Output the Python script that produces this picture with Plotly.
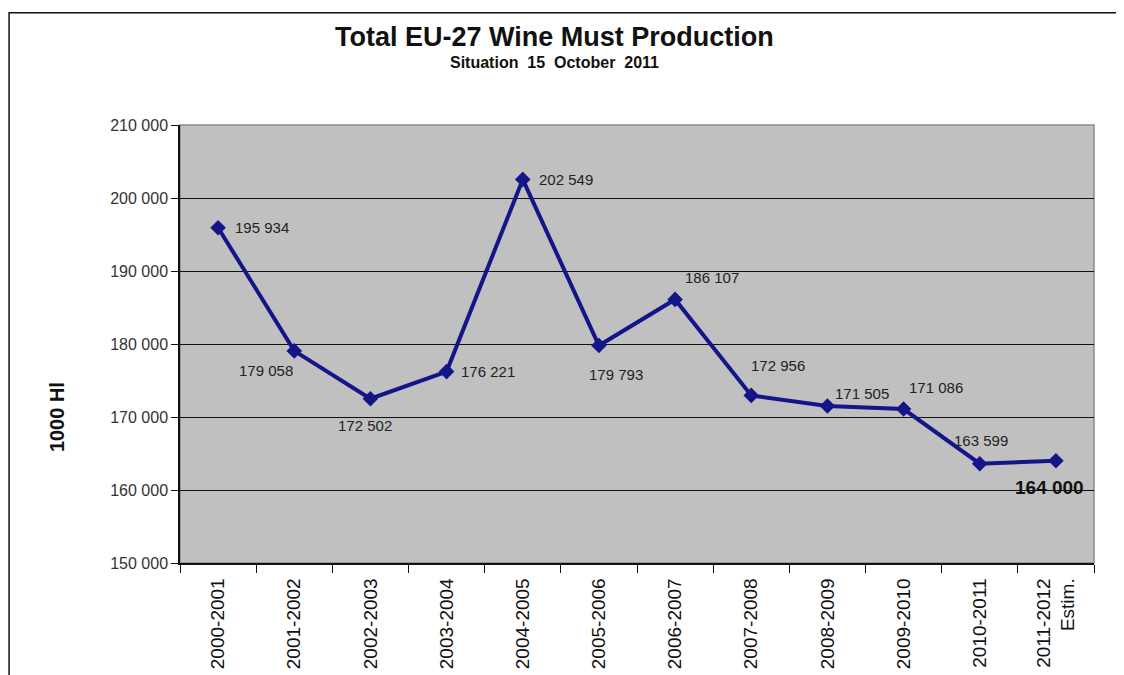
import plotly.graph_objects as go

categories = ["2000-2001", "2001-2002", "2002-2003", "2003-2004", "2004-2005", "2005-2006",
              "2006-2007", "2007-2008", "2008-2009", "2009-2010", "2010-2011", "2011-2012<br>Estim."]
production = [195934, 179058, 172502, 176221, 202549, 179793, 186107, 172956, 171505, 171086, 163599, 164000]
value_labels = ["195 934", "179 058", "172 502", "176 221", "202 549", "179 793", "186 107",
                "172 956", "171 505", "171 086", "163 599", "164 000"]
y_ticks = [150000, 160000, 170000, 180000, 190000, 200000, 210000]
y_tick_labels = ["150 000", "160 000", "170 000", "180 000", "190 000", "200 000", "210 000"]

# label offsets in pixels (dx, dy) relative to the point
offsets = [(44, 0), (-28, -20), (-5, -27), (41, 0), (43, 0), (17, -29), (37, 22), (27, 30),
           (35, 13), (32, 22), (1, 23), (-6, -27)]

FONT = "Liberation Sans, Arial, sans-serif"

fig = go.Figure()
fig.add_trace(go.Scatter(
    x=categories, y=production, mode="lines+markers",
    line=dict(color="#15158a", width=4),
    marker=dict(symbol="diamond", size=12, color="#15158a"),
    hoverinfo="x+y", showlegend=False,
))

for i, (c, v, t) in enumerate(zip(categories, production, value_labels)):
    dx, dy = offsets[i]
    last = i == len(categories) - 1
    fig.add_annotation(
        x=c, y=v, text=("<b>%s</b>" % t) if last else t, showarrow=False,
        xshift=dx, yshift=dy,
        font=dict(family=FONT, size=19 if last else 15, color="#111" if last else "#222"),
    )

fig.add_annotation(xref="paper", yref="paper", x=0.41, y=1.0, yshift=88, showarrow=False,
                   xanchor="center", yanchor="middle",
                   text="<b>Total EU-27 Wine Must Production</b>",
                   font=dict(family=FONT, size=27, color="#111"))
fig.add_annotation(xref="paper", yref="paper", x=0.41, y=1.0, yshift=63, showarrow=False,
                   xanchor="center", yanchor="middle",
                   text="<b>Situation  15  October  2011</b>",
                   font=dict(family=FONT, size=16, color="#111"))
# y-axis title
fig.add_annotation(xref="paper", yref="paper", x=-0.1346, y=0.333, showarrow=False,
                   xanchor="center", yanchor="middle", textangle=-90,
                   text="<b>1000 Hl</b>", font=dict(family=FONT, size=20, color="#111"))

# outer frame (right side runs off the page)
fig.add_shape(type="rect", xref="paper", yref="paper", x0=-0.187, x1=1.08, y0=-0.3, y1=1.256,
              line=dict(color="#111", width=1.5), fillcolor="rgba(0,0,0,0)", layer="below")
# plot border in gray (top/right)
fig.add_shape(type="rect", xref="paper", yref="paper", x0=0, x1=1, y0=0, y1=1,
              line=dict(color="#8c8c8c", width=1.5), fillcolor="rgba(0,0,0,0)", layer="below")

fig.update_layout(
    width=1116, height=667,
    margin=dict(l=172, r=30, t=117, b=112, autoexpand=False),
    paper_bgcolor="white", plot_bgcolor="#c0c0c0",
    font=dict(family=FONT, size=13, color="#222"),
    xaxis=dict(
        type="category", tickangle=-90, tickson="boundaries", ticks="outside", ticklen=8,
        tickcolor="#111", showgrid=False, showline=True, linecolor="#111", linewidth=1.5,
        tickfont=dict(size=19, color="#111"), range=[-0.5, 11.5], automargin=False,
        ticklabelstandoff=6,
    ),
    yaxis=dict(
        range=[150000, 210000], tickvals=y_ticks, ticktext=y_tick_labels,
        ticks="outside", ticklen=7, tickcolor="#111", showgrid=True, gridcolor="#111",
        gridwidth=1, showline=True, linecolor="#111", linewidth=1.5, zeroline=False,
        tickfont=dict(size=16, color="#333"), automargin=False,
    ),
)

fig.write_html("out.html")
